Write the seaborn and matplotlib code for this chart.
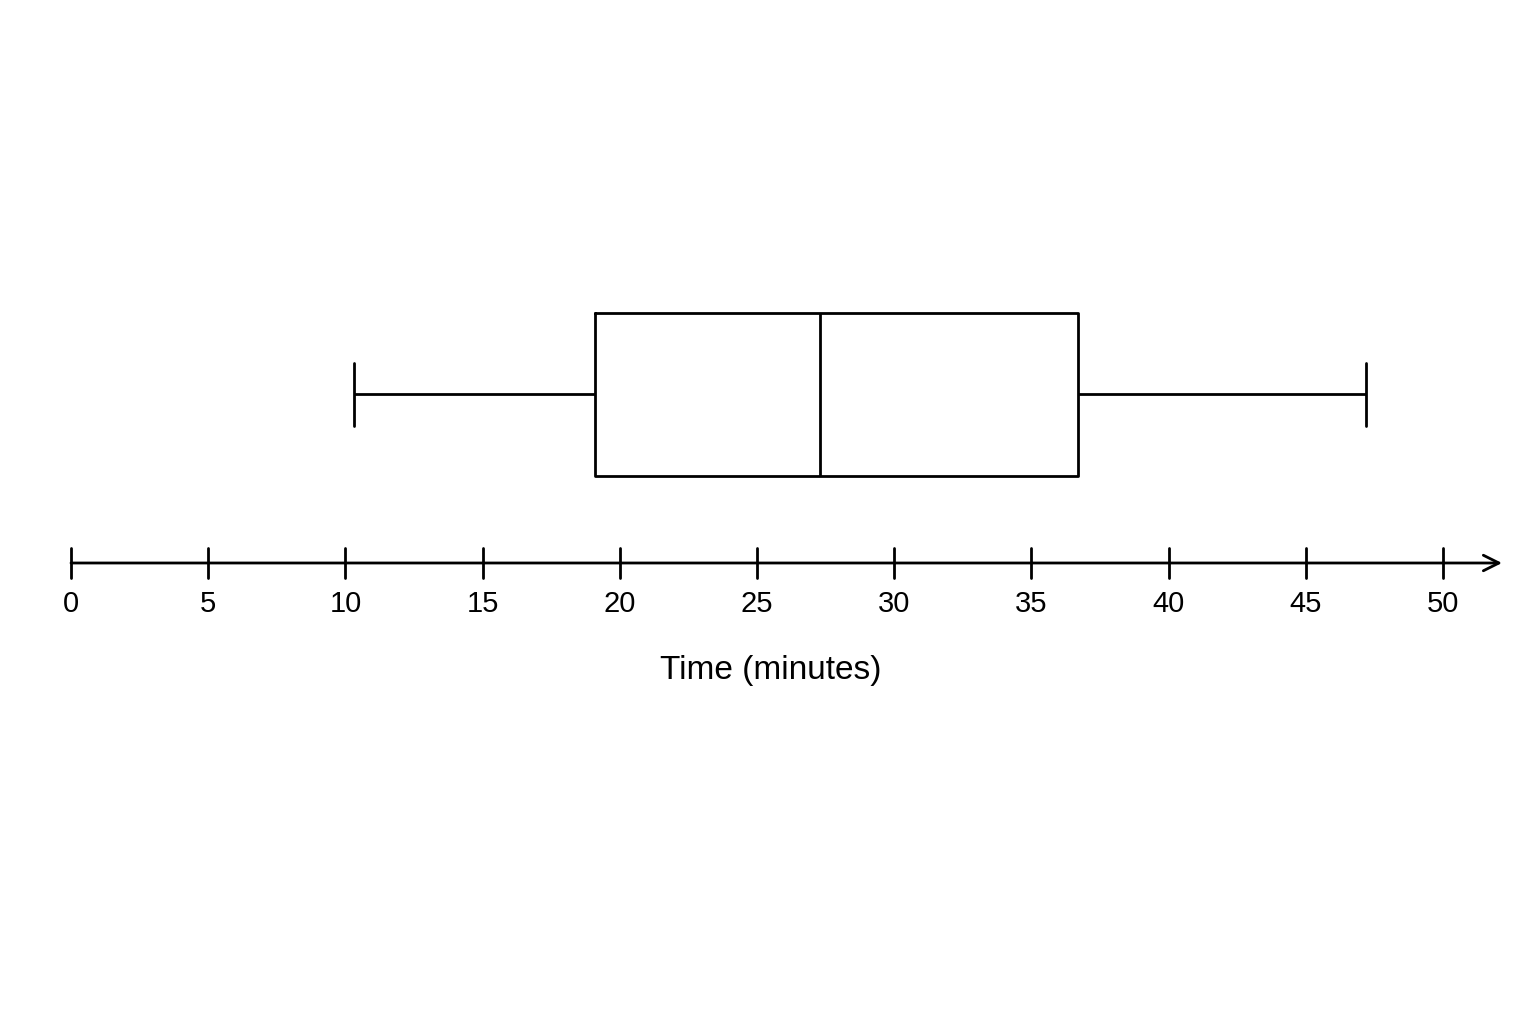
import seaborn as sns
import numpy as np
import pandas as pd
import matplotlib.pyplot as plt

# five-number summary (minutes)
summary = [10.3, 19.1, 27.3, 36.7, 47.2]
tick_values = [0, 5, 10, 15, 20, 25, 30, 35, 40, 45, 50]
axis_label = "Time (minutes)"

sns.set_style("white")
plt.rcParams['font.family'] = ['Liberation Sans', 'DejaVu Sans']

fig = plt.figure(figsize=(15.36, 10.24), dpi=100)
ax = fig.add_axes([0, 0, 1, 1])

df = pd.DataFrame({"time": summary})
sns.boxplot(data=df, x="time", orient="h", whis=(0, 100), width=0.8,
            fill=False, color="black", linewidth=2, ax=ax)

# pixel -> data mapping
px_per_unit = 27.44
ax.set_xlim(-71 / px_per_unit, (1536 - 71) / px_per_unit)
ypx = 203.75
ax.set_ylim((1024 - 394.5) / ypx, (0 - 394.5) / ypx)
axis_y = (563 - 394.5) / ypx
tick_h = 15 / ypx

# shorten whisker caps to match the reference
cap_half = 31.5 / ypx
for ln in ax.lines:
    xd, yd = np.asarray(ln.get_xdata(), float), np.asarray(ln.get_ydata(), float)
    if len(xd) == 2 and xd[0] == xd[1] and xd[0] in (summary[0], summary[-1]):
        ln.set_ydata([-cap_half, cap_half])

ax.annotate("", xy=((1502 - 71) / px_per_unit, axis_y), xytext=(0, axis_y),
            arrowprops=dict(arrowstyle="->", color="black", lw=2,
                            mutation_scale=28, shrinkA=0, shrinkB=0))
for t in tick_values:
    ax.plot([t, t], [axis_y - tick_h, axis_y + tick_h], color="black", lw=2)
    ax.text(t, (604 - 394.5) / ypx, str(t), ha="center", va="center",
            fontsize=21, color="black")
ax.text(25.5, (670 - 394.5) / ypx, axis_label, ha="center", va="center",
        fontsize=24, color="black")

ax.set_axis_off()
fig.savefig("out.png", dpi=100, facecolor="white")
